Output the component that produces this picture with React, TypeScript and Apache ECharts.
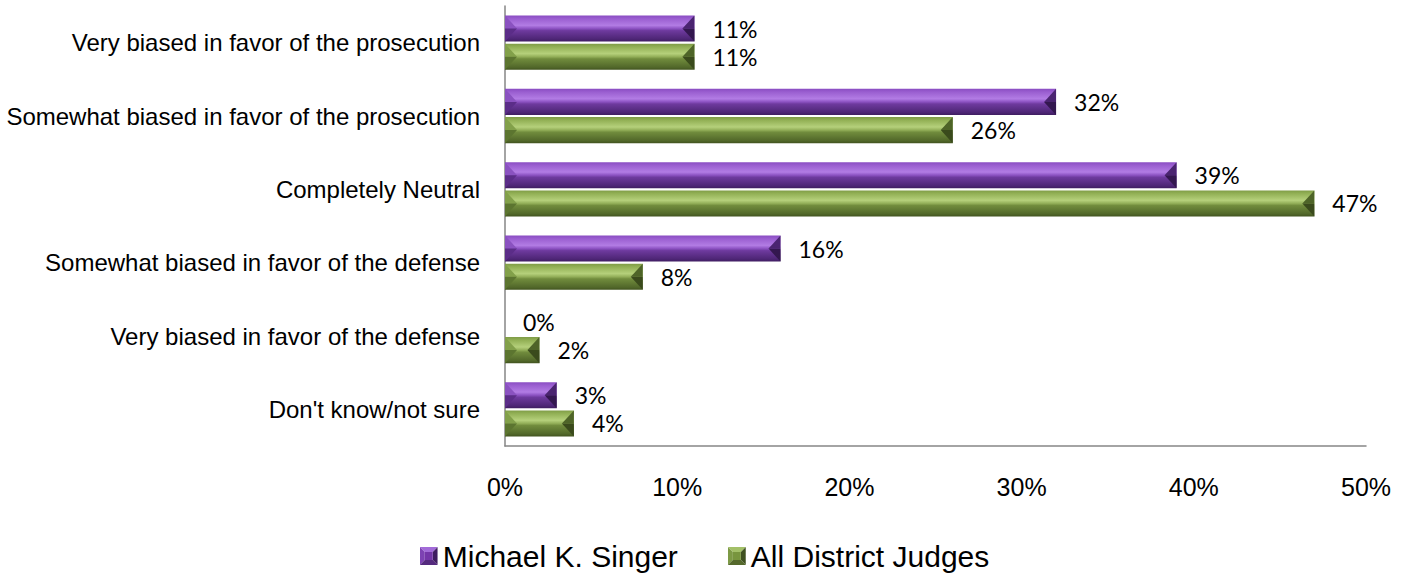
import React, { useEffect, useRef } from "react";
import * as echarts from "echarts";

const categories = [
  "Very biased in favor of the prosecution",
  "Somewhat biased in favor of the prosecution",
  "Completely Neutral",
  "Somewhat biased in favor of the defense",
  "Very biased in favor of the defense",
  "Don't know/not sure",
];
const seriesNames = ["Michael K. Singer", "All District Judges"];
const singerValues = [11, 32, 39, 16, 0, 3];
const judgesValues = [11, 26, 47, 8, 2, 4];
const xTicks = [0, 10, 20, 30, 40, 50];

const palettes = [
  {
    base: "#7030a0",
    grad: [
      [0, "#8a4dc2"],
      [0.12, "#9a5ed0"],
      [0.38, "#b27ce4"],
      [0.5, "#8c52c2"],
      [0.58, "#6e3a9e"],
      [0.9, "#4e2676"],
      [1, "#3f1d61"],
    ],
    leftTop: "#8a52c0",
    leftBot: "#5b2d88",
    rightTop: "#4a2470",
    rightBot: "#33174f",
    iconTop: "#a26bd8",
    iconLeft: "#7d42b3",
    iconRight: "#3f1d61",
    iconBot: "#552a7e",
    iconMid: "#7436a8",
  },
  {
    base: "#77933c",
    grad: [
      [0, "#7f9c46"],
      [0.12, "#92b055"],
      [0.38, "#b5d07b"],
      [0.5, "#92ae58"],
      [0.58, "#718c3d"],
      [0.9, "#52682a"],
      [1, "#425420"],
    ],
    leftTop: "#82a04a",
    leftBot: "#5c7530",
    rightTop: "#4e6428",
    rightBot: "#3a4a1c",
    iconTop: "#a3c068",
    iconLeft: "#7d9a45",
    iconRight: "#3f5120",
    iconBot: "#55692c",
    iconMid: "#78953e",
  },
];

function iconUrl(p: any) {
  const svg =
    `<svg xmlns="http://www.w3.org/2000/svg" width="18" height="18" viewBox="0 0 18 18">` +
    `<polygon points="0,0 18,0 13,5 5,5" fill="${p.iconTop}"/>` +
    `<polygon points="0,0 5,5 5,13 0,18" fill="${p.iconLeft}"/>` +
    `<polygon points="18,0 18,18 13,13 13,5" fill="${p.iconRight}"/>` +
    `<polygon points="0,18 5,13 13,13 18,18" fill="${p.iconBot}"/>` +
    `<rect x="5" y="5" width="8" height="8" fill="${p.iconMid}"/>` +
    `</svg>`;
  return "image://data:image/svg+xml;charset=utf-8," + encodeURIComponent(svg);
}

function makeRender(si: number) {
  const p = palettes[si];
  return (params: any, api: any) => {
    const val = api.value(0);
    const cat = api.value(1);
    const c0 = api.coord([0, cat]);
    const c1 = api.coord([val, cat]);
    const band = api.size([0, 1])[1];
    const h = band * 0.355;
    const g = band * 0.015;
    const y0 = si === 0 ? c0[1] - g - h : c0[1] + g;
    const y1 = y0 + h;
    const ym = (y0 + y1) / 2;
    const x0 = c0[0];
    const x1 = c1[0];
    const w = x1 - x0;
    const bx = Math.min(12, w / 2);
    const children: any[] = [];
    if (w > 0.5) {
      children.push({
        type: "rect",
        shape: { x: x0, y: y0, width: w, height: h },
        style: {
          fill: new echarts.graphic.LinearGradient(
            0,
            0,
            0,
            1,
            p.grad.map((s: any) => ({ offset: s[0], color: s[1] }))
          ),
        },
      });
      children.push({
        type: "polygon",
        shape: { points: [[x0, y0], [x0 + bx, ym], [x0, ym]] },
        style: { fill: p.leftTop },
      });
      children.push({
        type: "polygon",
        shape: { points: [[x0, ym], [x0 + bx, ym], [x0, y1]] },
        style: { fill: p.leftBot },
      });
      children.push({
        type: "polygon",
        shape: { points: [[x1, y0], [x1 - bx, ym], [x1, ym]] },
        style: { fill: p.rightTop },
      });
      children.push({
        type: "polygon",
        shape: { points: [[x1, ym], [x1 - bx, ym], [x1, y1]] },
        style: { fill: p.rightBot },
      });
    }
    children.push({
      type: "text",
      x: x1 + 18,
      y: ym,
      style: {
        text: val + "%",
        font: "23px Lato, 'Open Sans', sans-serif",
        fill: "#000",
        align: "left",
        verticalAlign: "middle",
      },
    });
    return { type: "group", children };
  };
}

export default function App() {
  const ref = useRef<HTMLDivElement>(null);
  useEffect(() => {
    if (!ref.current) return;
    const chart = echarts.init(ref.current, null, { renderer: "svg" });
    const option: any = {
      animation: false,
      backgroundColor: "#ffffff",
      grid: { left: 505, right: 43, top: 6, bottom: 127, containLabel: false },
      legend: {
        left: "center",
        top: 535,
        itemWidth: 18,
        itemHeight: 18,
        itemGap: 50,
        data: seriesNames.map((n, i) => ({ name: n, icon: iconUrl(palettes[i]) })),
        textStyle: {
          fontFamily: "'Liberation Sans', Arial, sans-serif",
          fontSize: 30,
          lineHeight: 32,
          color: "#000",
        },
      },
      xAxis: {
        type: "value",
        min: xTicks[0],
        max: xTicks[xTicks.length - 1],
        interval: 10,
        axisLine: { show: true, lineStyle: { color: "#868686", width: 1.5 } },
        axisTick: { show: false },
        splitLine: { show: false },
        axisLabel: {
          formatter: "{value}%",
          margin: 28,
          fontFamily: "'Liberation Sans', Arial, sans-serif",
          fontSize: 25,
          color: "#000",
        },
      },
      yAxis: {
        type: "category",
        inverse: true,
        data: categories,
        axisLine: { show: true, lineStyle: { color: "#868686", width: 1.5 } },
        axisTick: { show: false },
        axisLabel: {
          margin: 25,
          fontFamily: "'Liberation Sans', Arial, sans-serif",
          fontSize: 24,
          color: "#000",
        },
      },
      series: [
        {
          type: "custom",
          name: seriesNames[0],
          renderItem: makeRender(0),
          itemStyle: { color: palettes[0].base },
          encode: { x: 0, y: 1 },
          data: singerValues.map((v, i) => [v, i]),
        },
        {
          type: "custom",
          name: seriesNames[1],
          renderItem: makeRender(1),
          itemStyle: { color: palettes[1].base },
          encode: { x: 0, y: 1 },
          data: judgesValues.map((v, i) => [v, i]),
        },
      ],
    };
    chart.setOption(option);
    return () => chart.dispose();
  }, []);
  return (
    <div
      ref={ref}
      style={{ position: "fixed", left: 0, top: 0, width: 1409, height: 573 }}
    />
  );
}
